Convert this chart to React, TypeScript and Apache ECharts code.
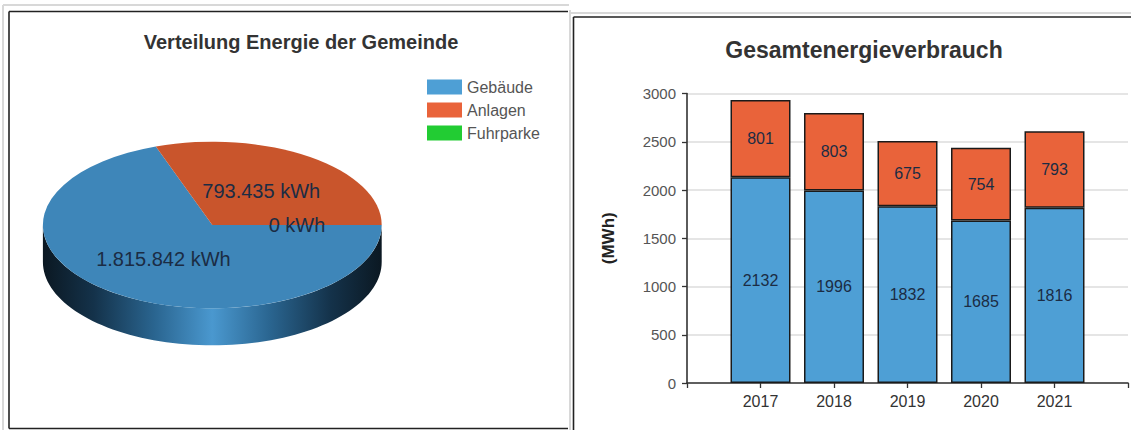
import React, { useEffect, useRef } from "react";
import * as echarts from "echarts";

// ---- data ----
const pieNames = ["Gebäude", "Anlagen", "Fuhrparke"];
const pieValuesKWh = [1815842, 793435, 0];

const years = ["2017", "2018", "2019", "2020", "2021"];
const gebaeudeMWh = [2132, 1996, 1832, 1685, 1816];
const anlagenMWh = [801, 803, 675, 754, 793];
const yTicks = [0, 500, 1000, 1500, 2000, 2500, 3000];

const pieTitle = "Verteilung Energie der Gemeinde";
const barTitle = "Gesamtenergieverbrauch";
const yAxisName = "(MWh)";

// ---- styles ----
const FONT = '"Liberation Sans", Arial, Helvetica, sans-serif';
const legendColors = ["#4e9fd5", "#e9633a", "#22cc33"];
const pieTopColors = ["#3e86b9", "#c9552c", "#22aa33"];
const labelColor = "#1b2c44";

const PIE = { cx: 212.3, cy: 225, rx: 169.4, ry: 83.3, depth: 37 };

function fmtDE(v: number): string {
  return String(v).replace(/\B(?=(\d{3})+(?!\d))/g, ".");
}

export default function App() {
  const ref = useRef<HTMLDivElement>(null);

  useEffect(() => {
    if (!ref.current) return;
    const chart = echarts.init(ref.current, null, { renderer: "svg" });

    const total = pieValuesKWh.reduce((a, b) => a + b, 0);
    const cats = ["", ...years, ""];
    const pad = (arr: number[]) => [null, ...arr, null];

    const sideGradient = new echarts.graphic.LinearGradient(
      PIE.cx - PIE.rx,
      0,
      PIE.cx + PIE.rx,
      0,
      [
        { offset: 0, color: "#0b1822" },
        { offset: 0.15, color: "#14324a" },
        { offset: 0.33, color: "#2a6590" },
        { offset: 0.5, color: "#4a98cf" },
        { offset: 0.67, color: "#2a6590" },
        { offset: 0.85, color: "#14324a" },
        { offset: 1, color: "#0b1822" },
      ],
      true
    );

    const renderPie = (params: any, api: any) => {
      const i = params.dataIndex;
      let before = 0;
      for (let j = 0; j < i; j++) before += pieValuesKWh[j];
      const v = api.value(0) as number;
      const a0 = (before / total) * Math.PI * 2;
      const a1 = ((before + v) / total) * Math.PI * 2;
      const children: any[] = [];
      // front side wall
      const s = Math.max(a0, 0);
      const e = Math.min(a1, Math.PI);
      if (e > s) {
        const top: number[][] = [];
        const bottom: number[][] = [];
        const n = 80;
        for (let k = 0; k <= n; k++) {
          const t = s + ((e - s) * k) / n;
          const x = PIE.cx + PIE.rx * Math.cos(t);
          const y = PIE.cy + PIE.ry * Math.sin(t);
          top.push([x, y]);
          bottom.push([x, y + PIE.depth]);
        }
        children.push({
          type: "polygon",
          shape: { points: top.concat(bottom.reverse()) },
          style: { fill: sideGradient },
          z2: 1,
        });
      }
      // top surface
      if (a1 > a0) {
        children.push({
          type: "group",
          x: PIE.cx,
          y: PIE.cy,
          scaleY: PIE.ry / PIE.rx,
          children: [
            {
              type: "sector",
              shape: { cx: 0, cy: 0, r: PIE.rx, r0: 0, startAngle: a0, endAngle: a1, clockwise: true },
              style: { fill: pieTopColors[i] },
              z2: 2,
            },
          ],
        });
      }
      const m = (a0 + a1) / 2;
      children.push({
        type: "text",
        x: PIE.cx + 0.5 * PIE.rx * Math.cos(m),
        y: PIE.cy + 0.5 * PIE.ry * Math.sin(m),
        style: {
          text: fmtDE(v) + " kWh",
          fill: labelColor,
          fontSize: 20,
          fontFamily: FONT,
          align: "center",
          verticalAlign: "middle",
        },
        z2: 100,
      });
      return { type: "group", children };
    };

    const darkLine = { stroke: "#222", lineWidth: 1.6 };
    const greyLine = { stroke: "#d8d8d8", lineWidth: 2 };

    chart.setOption({
      animation: false,
      backgroundColor: "#ffffff",
      textStyle: { fontFamily: FONT },
      title: [
        {
          text: pieTitle,
          left: 301,
          top: 32,
          textAlign: "center",
          padding: 0,
          textStyle: { fontSize: 20, fontWeight: "bold", color: "#333", fontFamily: FONT },
        },
        {
          text: barTitle,
          left: 864,
          top: 38,
          textAlign: "center",
          padding: 0,
          textStyle: { fontSize: 23, fontWeight: "bold", color: "#333", fontFamily: FONT },
        },
      ],
      legend: {
        data: pieNames,
        orient: "vertical",
        left: 422,
        top: 74,
        icon: "rect",
        itemWidth: 35,
        itemHeight: 15,
        itemGap: 7,
        itemStyle: { borderWidth: 0 },
        textStyle: { fontSize: 16, color: "#555", fontFamily: FONT },
        selectedMode: false,
      },
      grid: { left: 687, right: -2.4, top: 93.5, bottom: 47, containLabel: false },
      xAxis: {
        type: "category",
        data: cats,
        boundaryGap: false,
        axisLine: { show: true, lineStyle: { color: "#333", width: 1.6 } },
        axisTick: { show: true, length: 5, interval: 0, lineStyle: { color: "#333", width: 1.3 } },
        axisLabel: { interval: 0, fontSize: 16, color: "#333", margin: 10, fontFamily: FONT },
        splitLine: { show: false },
      },
      yAxis: {
        type: "value",
        min: yTicks[0],
        max: yTicks[yTicks.length - 1],
        interval: yTicks[1] - yTicks[0],
        name: yAxisName,
        nameLocation: "middle",
        nameGap: 70,
        nameTextStyle: { fontSize: 17, fontWeight: "bold", color: "#222", fontFamily: FONT },
        axisLine: { show: true, lineStyle: { color: "#333", width: 1.6 } },
        axisTick: { show: true, length: 5, lineStyle: { color: "#333", width: 1.3 } },
        axisLabel: {
          fontSize: 15,
          color: "#555",
          margin: 11,
          fontFamily: FONT,
          formatter: (v: number) => String(v),
        },
        splitLine: { show: true, lineStyle: { color: "#dcdcdc", width: 1.5 } },
      },
      series: [
        {
          type: "bar",
          name: pieNames[0],
          stack: "total",
          data: pad(gebaeudeMWh),
          barWidth: 60,
          itemStyle: { color: legendColors[0], borderColor: "#1a1a1a", borderWidth: 1.5 },
          label: { show: true, position: "inside", color: labelColor, fontSize: 16, fontFamily: FONT },
        },
        {
          type: "bar",
          name: pieNames[1],
          stack: "total",
          data: pad(anlagenMWh),
          barWidth: 60,
          itemStyle: { color: legendColors[1], borderColor: "#1a1a1a", borderWidth: 1.5 },
          label: { show: true, position: "inside", color: labelColor, fontSize: 16, fontFamily: FONT },
        },
        {
          type: "bar",
          name: pieNames[2],
          stack: "total",
          data: [],
          barWidth: 60,
          itemStyle: { color: legendColors[2] },
        },
        {
          type: "custom",
          name: "Verteilung",
          coordinateSystem: "none",
          renderItem: renderPie,
          data: pieValuesKWh.map((v, i) => ({ name: pieNames[i], value: v })),
        },
      ],
      graphic: [
        { type: "line", shape: { x1: 3, y1: 5, x2: 569, y2: 5 }, style: greyLine, silent: true },
        { type: "line", shape: { x1: 3, y1: 5, x2: 3, y2: 430 }, style: greyLine, silent: true },
        { type: "line", shape: { x1: 570, y1: 10, x2: 570, y2: 430 }, style: greyLine, silent: true },
        { type: "line", shape: { x1: 570, y1: 13, x2: 1131, y2: 13 }, style: greyLine, silent: true },
        { type: "line", shape: { x1: 9, y1: 11.5, x2: 568, y2: 11.5 }, style: darkLine, silent: true },
        { type: "line", shape: { x1: 9, y1: 11.5, x2: 9, y2: 428.5 }, style: darkLine, silent: true },
        { type: "line", shape: { x1: 9, y1: 428.5, x2: 568, y2: 428.5 }, style: darkLine, silent: true },
        { type: "line", shape: { x1: 573.5, y1: 17, x2: 573.5, y2: 430 }, style: darkLine, silent: true },
        { type: "line", shape: { x1: 573.5, y1: 17, x2: 1131, y2: 17 }, style: darkLine, silent: true },
      ],
    });

    return () => chart.dispose();
  }, []);

  return (
    <div
      ref={ref}
      style={{ position: "absolute", left: 0, top: 0, width: 1131, height: 430, background: "#fff" }}
    />
  );
}
